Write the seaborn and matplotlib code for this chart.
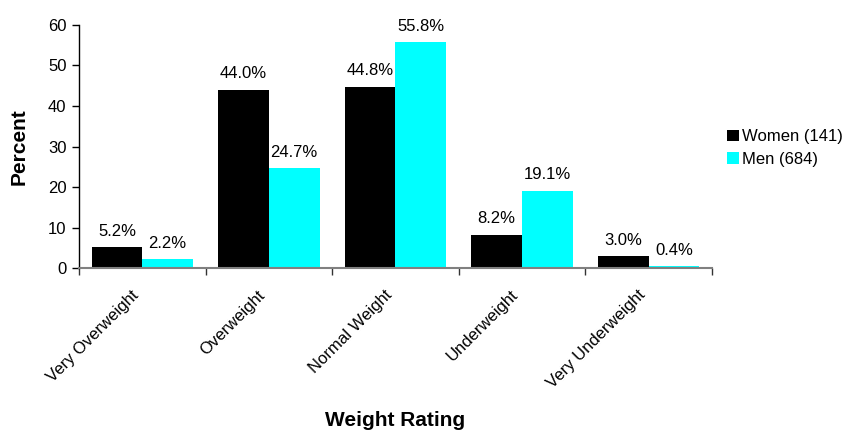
import matplotlib
matplotlib.use("Agg")
import matplotlib.pyplot as plt
import matplotlib.transforms as mtransforms
import seaborn as sns
import pandas as pd
import numpy as np

categories = ["Very Overweight", "Overweight", "Normal Weight", "Underweight", "Very Underweight"]
women = [5.2, 44.0, 44.8, 8.2, 3.0]
men = [2.2, 24.7, 55.8, 19.1, 0.4]
series_names = ["Women (141)", "Men (684)"]
y_ticks = [0, 10, 20, 30, 40, 50, 60]

df = pd.DataFrame({
    "Weight Rating": categories * 2,
    "Percent": women + men,
    "Group": [series_names[0]] * len(categories) + [series_names[1]] * len(categories),
})

sns.set_theme(style="white")
plt.rcParams["font.family"] = ["Liberation Sans", "DejaVu Sans"]
plt.rcParams.update({
    "text.color": "black",
    "axes.labelcolor": "black",
    "xtick.labelcolor": "black",
    "ytick.labelcolor": "black",
})

fig = plt.figure(figsize=(8.45, 4.3), dpi=100)
ax = fig.add_axes([0.0935, 0.3767, 0.749, 0.5652])

sns.barplot(data=df, x="Weight Rating", y="Percent", hue="Group",
            palette=["#000000", "#00FFFF"], width=0.8, saturation=1,
            linewidth=0, ax=ax, legend=True)

for container in ax.containers:
    ax.bar_label(container, labels=[f"{v:.1f}%" for v in container.datavalues],
                 padding=6, fontsize=12, color="black")

ax.set_ylim(0, 60)
ax.set_yticks(y_ticks)
ax.set_xlim(-0.5, len(categories) - 0.5)
ax.tick_params(axis="y", which="major", left=True, length=5, width=1,
               color="black", labelsize=12, pad=4, labelcolor="black")

# category separators as ticks on the x axis
ax.set_xticks(np.arange(len(categories)))
ax.set_xticklabels(categories, rotation=45, ha="right", rotation_mode="anchor",
                   fontsize=12, color="black")
ax.set_xticks(np.arange(-0.5, len(categories)), minor=True)
ax.tick_params(axis="x", which="major", bottom=False, length=0, pad=14)
ax.tick_params(axis="x", which="minor", bottom=True, length=5, width=1, color="#333333")
shift = mtransforms.ScaledTranslation(-8 / 72, 0, fig.dpi_scale_trans)
for lbl in ax.get_xticklabels():
    lbl.set_transform(lbl.get_transform() + shift)

for side in ["top", "right"]:
    ax.spines[side].set_visible(False)
ax.spines["left"].set_color("black")
ax.spines["left"].set_linewidth(1)
ax.spines["bottom"].set_color("#808080")
ax.spines["bottom"].set_linewidth(1.5)

ax.set_ylabel("Percent", fontsize=15, fontweight="bold", labelpad=14, color="black")
ax.set_xlabel("Weight Rating", fontsize=15, fontweight="bold", labelpad=14, color="black")

leg = ax.legend(loc="center left", bbox_to_anchor=(727 / 845, 1 - 148 / 430),
                bbox_transform=fig.transFigure, frameon=False,
                fontsize=12, handlelength=0.7, handleheight=0.7,
                handletextpad=0.2, labelspacing=0.45, borderaxespad=0, borderpad=0)
for h in leg.legend_handles:
    h.set_edgecolor("none")
for t in leg.get_texts():
    t.set_color("black")

fig.savefig("out.png", dpi=100)
